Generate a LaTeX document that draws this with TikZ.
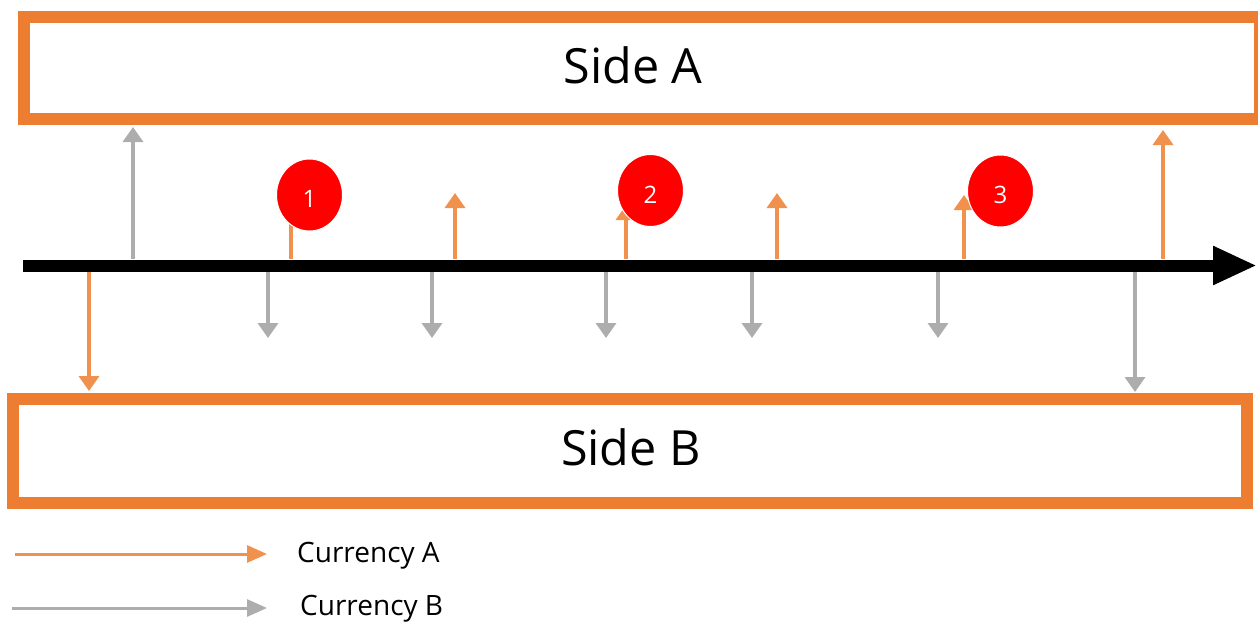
\documentclass[tikz,border=0pt]{standalone}
\usepackage{fontspec}
\setmainfont{Open Sans}
\usetikzlibrary{arrows.meta,shapes.geometric}
\definecolor{boxorange}{HTML}{ED7D31}
\definecolor{arrorange}{HTML}{F0914D}
\definecolor{arrgrey}{HTML}{ADADAD}
\definecolor{badgered}{HTML}{FF0000}
\begin{document}
\begin{tikzpicture}[x=1pt,y=-1pt,
  sidebox/.style={draw=boxorange,line width=12pt,fill=white,inner sep=0pt},
  sidetext/.style={anchor=base,inner sep=0pt,font=\fontsize{48.5}{52}\selectfont},
  flowA/.style={draw=arrorange,line width=3.5pt,-{Triangle[width=20pt,length=15pt]}},
  flowB/.style={draw=arrgrey,line width=3.5pt,-{Triangle[width=20pt,length=15pt]}},
  legA/.style={draw=arrorange,line width=3pt,-{Triangle[width=17pt,length=20pt]}},
  legB/.style={draw=arrgrey,line width=3pt,-{Triangle[width=17pt,length=20pt]}},
  legtext/.style={anchor=base west,inner sep=0pt,font=\fontsize{28}{32}\selectfont},
  badge/.style={ellipse,fill=badgered,draw=white,line width=1pt,minimum width=66pt,minimum height=72pt,inner sep=0pt,text=white,text height=25pt,text depth=0pt,font=\fontsize{24}{28}\selectfont},
  timeline/.style={draw=black,line width=12pt,-{Triangle[width=36pt,length=44pt]}}]
\useasboundingbox (0,0) rectangle (1258,621);

% side boxes
\node[sidebox,minimum width=1236pt,minimum height=102.5pt] (boxA) at (641.5,67.75) {};
\node[sidebox,minimum width=1234.5pt,minimum height=104pt] (boxB) at (629.75,451) {};
\node[sidetext] (textA) at (633,83) {Side A};
\node[sidetext] (textB) at (631,465) {Side B};

% timeline
\coordinate (t0) at (23,265.5);
\coordinate (t1) at (1257,265.5);
\draw[timeline] (t0) -- (t1);

% flows up (from top edge of line)
\coordinate (g1s) at (133,259);   \coordinate (g1e) at (133,127);
\coordinate (a1s) at (291,259);   \coordinate (a1e) at (291,196);
\coordinate (a2s) at (455,259);   \coordinate (a2e) at (455,193);
\coordinate (a3s) at (626,259);   \coordinate (a3e) at (626,205);
\coordinate (a4s) at (777,259);   \coordinate (a4e) at (777,193);
\coordinate (a5s) at (964,259);   \coordinate (a5e) at (964,195);
\coordinate (a6s) at (1163,259);  \coordinate (a6e) at (1163,130);
% flows down (from bottom edge of line)
\coordinate (o1s) at (89,272);    \coordinate (o1e) at (89,391);
\coordinate (b1s) at (268,272);   \coordinate (b1e) at (268,338);
\coordinate (b2s) at (432,272);   \coordinate (b2e) at (432,338);
\coordinate (b3s) at (606,272);   \coordinate (b3e) at (606,338);
\coordinate (b4s) at (752,272);   \coordinate (b4e) at (752,338);
\coordinate (b5s) at (938,272);   \coordinate (b5e) at (938,338);
\coordinate (b6s) at (1135,272);  \coordinate (b6e) at (1135,392);

\draw[flowB] (g1s) -- (g1e);
\draw[flowA] (a1s) -- (a1e);
\draw[flowA] (a2s) -- (a2e);
\draw[flowA] (a3s) -- (a3e);
\draw[flowA] (a4s) -- (a4e);
\draw[flowA] (a5s) -- (a5e);
\draw[flowA] (a6s) -- (a6e);
\draw[flowA] (o1s) -- (o1e);
\draw[flowB] (b1s) -- (b1e);
\draw[flowB] (b2s) -- (b2e);
\draw[flowB] (b3s) -- (b3e);
\draw[flowB] (b4s) -- (b4e);
\draw[flowB] (b5s) -- (b5e);
\draw[flowB] (b6s) -- (b6e);

% badges
\node[badge] (n1) at (309.5,195) {1};
\node[badge] (n2) at (650.5,190.5) {2};
\node[badge] (n3) at (1000.5,191) {3};

% legend
\coordinate (la0) at (15,554);  \coordinate (la1) at (267,554);
\coordinate (lb0) at (12,608);  \coordinate (lb1) at (267,608);
\draw[legA] (la0) -- (la1);
\draw[legB] (lb0) -- (lb1);
\node[legtext] (legAtext) at (297,562) {Currency A};
\node[legtext] (legBtext) at (300,615.5) {Currency B};
\end{tikzpicture}
\end{document}
